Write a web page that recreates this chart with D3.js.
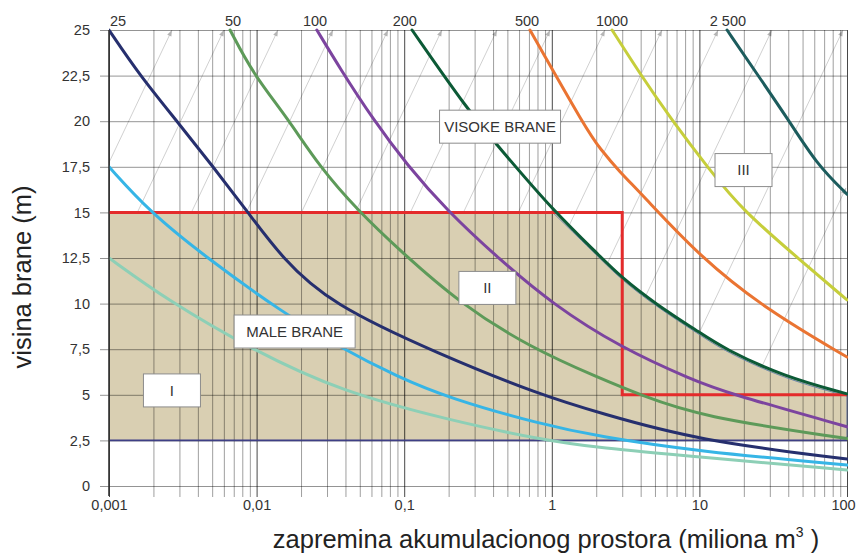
<!DOCTYPE html>
<html>
<head>
<meta charset="utf-8">
<script src="https://cdn.jsdelivr.net/npm/d3@7"></script>
<style>
  body { margin: 0; background: #fff; }
  text { font-family: "Liberation Sans", Arial, Helvetica, sans-serif; }
</style>
</head>
<body>
<svg id="chart" width="857" height="554"></svg>
<script>
// Axis ticks
const volumeTicks = [0.001, 0.01, 0.1, 1, 10, 100];
const volumeTickLabels = ["0,001", "0,01", "0,1", "1", "10", "100"];
const heightTicks = [0, 2.5, 5, 7.5, 10, 12.5, 15, 17.5, 20, 22.5, 25];
const heightTickLabels = ["0", "2,5", "5", "7,5", "10", "12,5", "15", "17,5", "20", "22,5", "25"];

// Curves: [volume (10^6 m3), dam height (m)]
const curveC5    = [[0.001,12.5],[0.00247,10.2],[0.00945,7.45],[0.0367,5.2],[0.204,3.6],[0.832,2.55],[2.12,2.08],[9.64,1.6],[100,0.88]];
const curveC10   = [[0.001,17.5],[0.0019,15],[0.00461,12.5],[0.0151,9.5],[0.0367,7.6],[0.0893,6.0],[0.204,4.8],[0.832,3.4],[2.12,2.7],[9.64,1.9],[100,1.15]];
const curveC25   = [[0.001,25],[0.00162,22.5],[0.00289,20],[0.00507,17.5],[0.00875,15],[0.01486,12.5],[0.0314,10],[0.175,7.2],[0.832,5],[2.12,4.0],[9.64,2.5],[100,1.48]];
const curveC50   = [[0.00661,25],[0.00945,22.6],[0.0161,20.2],[0.0267,17.5],[0.0486,15.1],[0.0938,12.9],[0.239,10.0],[0.711,7.6],[2.12,5.9],[3.96,5.0],[10.1,3.8],[100,2.6]];
const curveC100  = [[0.0256,25],[0.0367,22.9],[0.0615,20.1],[0.1045,17.6],[0.195,15.1],[0.446,12.4],[1.0,10],[2.9,7.6],[9.06,5.8],[15.4,5.1],[100,3.25]];
const curveC200  = [[0.113,25],[0.27,20.6],[0.446,18.5],[1.02,15.1],[2.12,12.6],[2.9,11.5],[5.0,10],[10.1,8.4],[14.9,7.5],[37.4,6.0],[100,5.05]];
const curveC500  = [[0.711,25],[1.73,19.5],[2.12,18.5],[2.9,17.2],[3.96,16.1],[10.1,12.55],[28.7,9.65],[100,7.07]];
const curveC1000 = [[2.56,25],[3.96,22.6],[6.32,20.2],[11.8,17.3],[19.7,15.1],[48.0,12.4],[100,10.2]];
const curveC2500 = [[15.4,25],[24.5,22.6],[39.2,20.2],[62.7,17.6],[100,16.0]];

// Curve labels along the top edge
const curveLabels = ["25", "50", "100", "200", "500", "1000", "2 500"];
const curveLabelVolumes = [0.00115, 0.00692, 0.0249, 0.101, 0.679, 2.56, 15.6];

// Class boundary (red) and lower height limit
const boundaryLine = [[0.001,15],[3,15],[3,5],[100,5]];
const minHeight = 2.5;
const smallDamTop = 15;

// Zone annotations
const zoneLabels = ["VISOKE BRANE", "MALE BRANE", "I", "II", "III"];
const zoneVolumes = [0.446, 0.0181, 0.00267, 0.366, 19.9];
const zoneHeights = [19.7, 8.47, 5.24, 10.86, 17.32];

// Thin guide lines: volume where each reaches the top edge
const guideTopVolumes = [0.00267, 0.00601, 0.01396, 0.0329, 0.0777, 0.180, 0.425, 0.973, 2.29, 5.58, 13.4, 31.0, 93.9, 322];
const guideSpanDecades = 1.32;

// ---- layout ----
const plotL = 109, plotR = 847, plotT = 30, plotB = 486;

const svg = d3.select("#chart");
const x = d3.scaleLog().domain([0.001, 100]).range([plotL, plotR]);
const y = d3.scaleLinear().domain([0, 25]).range([plotB, plotT]);

const defs = svg.append("defs");
defs.append("clipPath").attr("id", "plot")
  .append("rect").attr("x", plotL).attr("y", plotT - 2).attr("width", plotR - plotL + 1).attr("height", plotB - plotT + 4);
defs.append("marker").attr("id", "arrow")
  .attr("viewBox", "-8 -4 9 8").attr("refX", 0).attr("refY", 0)
  .attr("markerWidth", 8).attr("markerHeight", 8).attr("markerUnits", "userSpaceOnUse")
  .attr("orient", "auto")
  .append("path").attr("d", "M0,0 L-7,-2.6 L-7,2.6 Z").attr("fill", "#b5b5b5");

// Guide lines (drawn first, covered by the shaded zone)
const guides = svg.append("g");
guideTopVolumes.forEach(v => {
  const foot = v / Math.pow(10, guideSpanDecades);
  let x1 = x(foot), y1 = y(minHeight), x2 = x(v), y2 = y(25);
  if (x2 > plotR) {
    const t = (plotR - x1) / (x2 - x1);
    y2 = y1 + t * (y2 - y1);
    x2 = plotR - 1;
  }
  if (x1 < plotL) {
    const t = (plotL - x1) / (x2 - x1);
    y1 = y1 + t * (y2 - y1);
    x1 = plotL;
  }
  guides.append("line")
    .attr("x1", x1).attr("y1", y1).attr("x2", x2).attr("y2", y2)
    .attr("stroke", "#c4c4c4").attr("stroke-width", 0.8)
    .attr("marker-end", "url(#arrow)");
});

// Shaded zone: between the lower limit, the 15 m line and the C200 curve
const lineGen = d3.line().x(d => x(d[0])).y(d => y(d[1])).curve(d3.curveBasis);
const upperEdge = curveC200.filter(d => d[1] <= 15.2);
const r = 5;
const zonePath = "M" + x(0.001) + "," + y(minHeight) +
  "L" + x(0.001) + "," + y(smallDamTop) +
  "L" + x(upperEdge[0][0]) + "," + y(smallDamTop) +
  lineGen(upperEdge).replace(/^M/, "L") +
  "L" + x(100) + "," + (y(minHeight) - r) +
  "Q" + x(100) + "," + y(minHeight) + " " + (x(100) - r) + "," + y(minHeight) + "Z";
svg.append("path").attr("d", zonePath).attr("fill", "#d9cfb2");

// Grid
const gridV = svg.append("g").attr("transform", `translate(0,${plotB + 11})`)
  .call(d3.axisBottom(x).tickValues(x.ticks()).tickSize(-(plotB + 11 - plotT)).tickFormat(""));
gridV.select(".domain").remove();
gridV.selectAll("line")
  .attr("stroke", d => volumeTicks.includes(d) ? "rgba(0,0,0,0.72)" : "rgba(0,0,0,0.38)")
  .attr("stroke-width", 1);

const gridH = svg.append("g").attr("transform", `translate(${plotL - 9},0)`)
  .call(d3.axisLeft(y).tickValues(heightTicks).tickSize(-(plotR - plotL + 9)).tickFormat(""));
gridH.select(".domain").remove();
gridH.selectAll("line").attr("stroke", "rgba(0,0,0,0.42)").attr("stroke-width", 1);

// Zone outline
svg.append("path").attr("d", lineGen(upperEdge))
  .attr("transform", "translate(0,2.2)")
  .attr("fill", "none").attr("stroke", "#6a86a8").attr("stroke-width", 1);
svg.append("path")
  .attr("d", "M" + x(100) + "," + y(5) + "L" + x(100) + "," + (y(minHeight) - r) +
    "Q" + x(100) + "," + y(minHeight) + " " + (x(100) - r) + "," + y(minHeight))
  .attr("fill", "none").attr("stroke", "#5a6a9a").attr("stroke-width", 1);
svg.append("line")
  .attr("x1", x(0.001)).attr("x2", x(100)).attr("y1", y(minHeight)).attr("y2", y(minHeight))
  .attr("stroke", "#3e3f85").attr("stroke-width", 1.6);

// Red class boundary
svg.append("path").attr("d", d3.line().x(d => x(d[0])).y(d => y(d[1]))(boundaryLine))
  .attr("fill", "none").attr("stroke", "#e42b2b").attr("stroke-width", 3)
  .attr("stroke-linejoin", "miter");

// Curves
const curveSet = [
  { pts: curveC5, color: "#8dcfb6" },
  { pts: curveC10, color: "#36b5e6" },
  { pts: curveC25, color: "#262f6e" },
  { pts: curveC50, color: "#5d9a59" },
  { pts: curveC100, color: "#7c449f" },
  { pts: curveC200, color: "#0c5a36" },
  { pts: curveC500, color: "#ea7432" },
  { pts: curveC1000, color: "#c6ce3b" },
  { pts: curveC2500, color: "#1c5c5d" }
];
const curveG = svg.append("g").attr("clip-path", "url(#plot)");
curveSet.forEach(c => {
  curveG.append("path").attr("d", lineGen(c.pts))
    .attr("fill", "none").attr("stroke", c.color).attr("stroke-width", 3)
    .attr("stroke-linecap", "round");
});

// Zone annotation boxes
zoneLabels.forEach((t, i) => {
  const cx = x(zoneVolumes[i]), cy = y(zoneHeights[i]);
  const w = t.length > 3 ? 121 : 57, h = 33;
  const g = svg.append("g");
  g.append("rect").attr("x", cx - w / 2).attr("y", cy - h / 2).attr("width", w).attr("height", h)
    .attr("fill", "#fff").attr("stroke", "#8c8c8c").attr("stroke-width", 1);
  g.append("text").attr("x", cx).attr("y", cy).attr("dy", "0.36em")
    .attr("text-anchor", "middle").attr("font-size", 15).attr("fill", "#333").text(t);
});

// Axes
svg.append("line").attr("x1", plotL).attr("x2", plotL).attr("y1", plotT).attr("y2", plotB + 10)
  .attr("stroke", "#333").attr("stroke-width", 1.6);

const xAxis = svg.append("g").attr("transform", `translate(0,${plotB})`)
  .call(d3.axisBottom(x).tickValues(volumeTicks).tickSize(0).tickPadding(14)
    .tickFormat((d, i) => volumeTickLabels[i]));
xAxis.select(".domain").remove();
xAxis.selectAll("text").attr("font-size", 14.5).attr("fill", "#333")
  .style("font-family", "'Liberation Sans', Arial, sans-serif")
  .attr("dx", d => d === 100 ? -4 : 0);

const yAxis = svg.append("g").attr("transform", `translate(${plotL},0)`)
  .call(d3.axisLeft(y).tickValues(heightTicks).tickSize(0).tickPadding(19)
    .tickFormat((d, i) => heightTickLabels[i]));
yAxis.select(".domain").remove();
yAxis.selectAll("text").attr("font-size", 14.5).attr("fill", "#333")
  .style("font-family", "'Liberation Sans', Arial, sans-serif");

// Curve labels on top
curveLabels.forEach((t, i) => {
  svg.append("text").attr("x", x(curveLabelVolumes[i])).attr("y", 26)
    .attr("text-anchor", "middle").attr("font-size", 14.5).attr("fill", "#333").text(t);
});

// Axis titles
svg.append("text").attr("transform", "translate(31,277) rotate(-90)")
  .attr("text-anchor", "middle").attr("font-size", 25.5).attr("fill", "#222")
  .text("visina brane (m)");

const xt = svg.append("text").attr("x", 546).attr("y", 548)
  .attr("text-anchor", "middle").attr("font-size", 25.5).attr("fill", "#222");
xt.append("tspan").text("zapremina akumulacionog prostora (miliona m");
xt.append("tspan").attr("dy", -11).attr("font-size", 14).text("3");
xt.append("tspan").attr("dy", 11).text(" )");
</script>
</body>
</html>
